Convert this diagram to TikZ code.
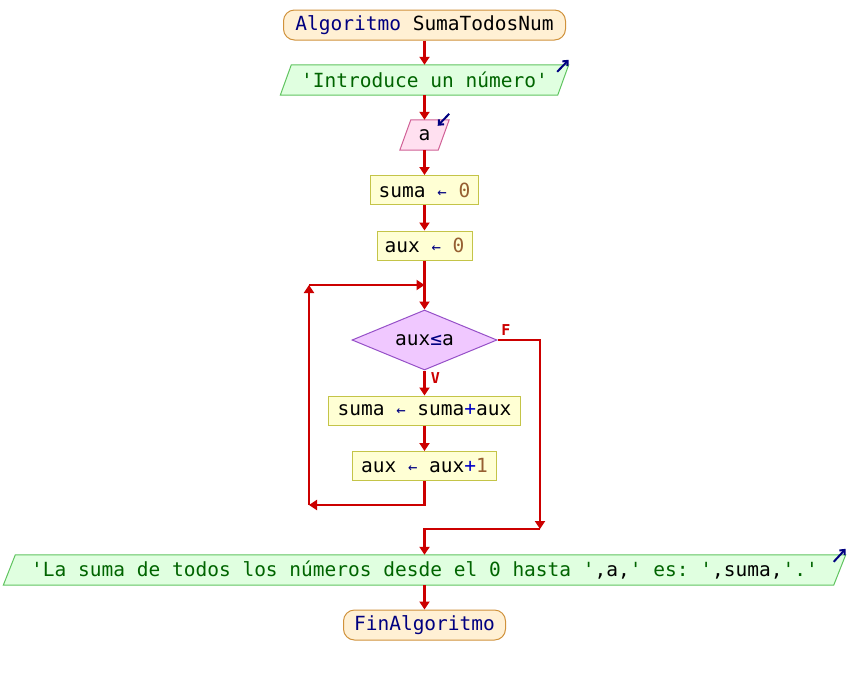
\documentclass[tikz,border=0pt]{standalone}
\usepackage{fontspec}
\setmonofont{DejaVu Sans Mono}
\usetikzlibrary{arrows.meta,shapes.geometric,backgrounds}
\definecolor{termfill}{RGB}{255,240,212}
\definecolor{termdraw}{RGB}{208,146,60}
\definecolor{outfill}{RGB}{224,255,224}
\definecolor{outdraw}{RGB}{96,196,96}
\definecolor{infill}{RGB}{255,224,240}
\definecolor{indraw}{RGB}{208,96,150}
\definecolor{procfill}{RGB}{255,255,212}
\definecolor{procdraw}{RGB}{196,196,72}
\definecolor{decfill}{RGB}{240,200,255}
\definecolor{decdraw}{RGB}{150,80,200}
\definecolor{flowred}{RGB}{204,0,0}
\definecolor{kwnavy}{RGB}{0,0,128}
\definecolor{strgreen}{RGB}{0,100,0}
\definecolor{numbrown}{RGB}{150,95,50}
\definecolor{opblue}{RGB}{0,0,200}
\newcommand{\kw}[1]{\textcolor{kwnavy}{#1}}
\newcommand{\str}[1]{\textcolor{strgreen}{#1}}
\newcommand{\num}[1]{\textcolor{numbrown}{#1}}
\newcommand{\asg}{\textcolor{kwnavy}{\scalebox{0.8}{←}}}
\begin{document}
\begin{tikzpicture}[x=1pt,y=-1pt,
  every node/.style={font=\fontsize{19.5}{20}\selectfont\ttfamily, inner sep=0pt},
  term/.style={draw=termdraw, fill=termfill, line width=1pt, rounded corners=11pt, minimum height=30pt},
  proc/.style={draw=procdraw, fill=procfill, line width=1pt, minimum height=29pt},
  dec/.style={diamond, draw=decdraw, fill=decfill, line width=1pt, minimum width=145pt, minimum height=60pt, shape aspect=2.4},
  para/.style={minimum height=30pt},
  outshape/.style={draw=outdraw, fill=outfill, line width=1pt},
  inshape/.style={draw=indraw, fill=infill, line width=1pt},
  icon/.style={draw=kwnavy, line width=2pt, -{Straight Barb[length=4pt,width=7pt]}},
  arr/.style={draw=flowred, line width=2.5pt, -{Triangle[length=8pt,width=10pt]}},
  lab/.style={text=flowred, font=\fontsize{15}{15}\selectfont\ttfamily\bfseries}]
\begin{pgfonlayer}{background}
\fill[white] (0,0) rectangle (848,675);
\end{pgfonlayer}
\useasboundingbox (0,0) rectangle (848,675);

% nodes
\node[term, minimum width=282pt] (start) at (424.5,25) {\kw{Algoritmo} SumaTodosNum};
\node[para, minimum width=277pt] (o1) at (424.5,80) {\str{'Introduce un número'}};
\node[para, minimum width=38pt] (in1) at (424.5,135) {a};
\node[proc, minimum width=108pt] (p1) at (424.5,190) {suma \asg{} \num{0}};
\node[proc, minimum width=95pt] (p2) at (424.5,245.5) {aux \asg{} \num{0}};
\node[dec] (d) at (424.5,340) {aux\textcolor{kwnavy}{≤}a};
\node[proc, minimum width=192pt] (p3) at (424.5,410.5) {suma \asg{} suma\textcolor{opblue}{+}aux};
\node[proc, minimum width=144pt] (p4) at (424.5,466) {aux \asg{} aux\textcolor{opblue}{+}\num{1}};
\node[para, minimum width=830pt] (o2) at (424.5,570) {\str{'La suma de todos los números desde el 0 hasta '},a,\str{' es: '},suma,\str{'.'}};
\node[term, minimum width=162pt] (fin) at (424.5,625) {\kw{FinAlgoritmo}};

% parallelogram shapes
\begin{pgfonlayer}{background}
\path[outshape] ([xshift=-5.5pt]o1.south west) -- ([xshift=5.5pt]o1.north west) -- ([xshift=5.5pt]o1.north east) -- ([xshift=-5.5pt]o1.south east) -- cycle;
\path[inshape] ([xshift=-5.5pt]in1.south west) -- ([xshift=5.5pt]in1.north west) -- ([xshift=5.5pt]in1.north east) -- ([xshift=-5.5pt]in1.south east) -- cycle;
\path[outshape] ([xshift=-6pt]o2.south west) -- ([xshift=6pt]o2.north west) -- ([xshift=6pt]o2.north east) -- ([xshift=-6pt]o2.south east) -- cycle;
\end{pgfonlayer}

% io icons
\draw[icon] ([xshift=-6pt,yshift=-7pt]o1.north east) -- ([xshift=5.5pt,yshift=5pt]o1.north east);
\draw[icon] ([xshift=5.5pt,yshift=6pt]in1.north east) -- ([xshift=-6pt,yshift=-6pt]in1.north east);
\draw[icon] ([xshift=-6pt,yshift=-7pt]o2.north east) -- ([xshift=6pt,yshift=6pt]o2.north east);

% coordinates
\coordinate (j1) at (424.5,285);
\coordinate (lbl) at (309,505);
\coordinate (ltl) at (309,285);
\coordinate (fr) at (540,529);

% connectors
\draw[arr] (start) -- (o1);
\draw[arr] (o1) -- (in1);
\draw[arr] (in1) -- (p1);
\draw[arr] (p1) -- (p2);
\draw[arr] (p2) -- (d);
\draw[arr] (d) -- (p3) node[lab, pos=0.3, right=5pt] {V};
\draw[arr] (p3) -- (p4);
\draw[arr] (p4.south) |- (lbl);
\draw[arr] (lbl) -- (ltl);
\draw[arr] (ltl) -- (j1);
\draw[arr] (d.east) -| (fr);
\node[lab] (flab) at (506,330) {F};
\draw[arr] (fr) -| (o2.north);
\draw[arr] (o2) -- (fin);
\end{tikzpicture}
\end{document}
